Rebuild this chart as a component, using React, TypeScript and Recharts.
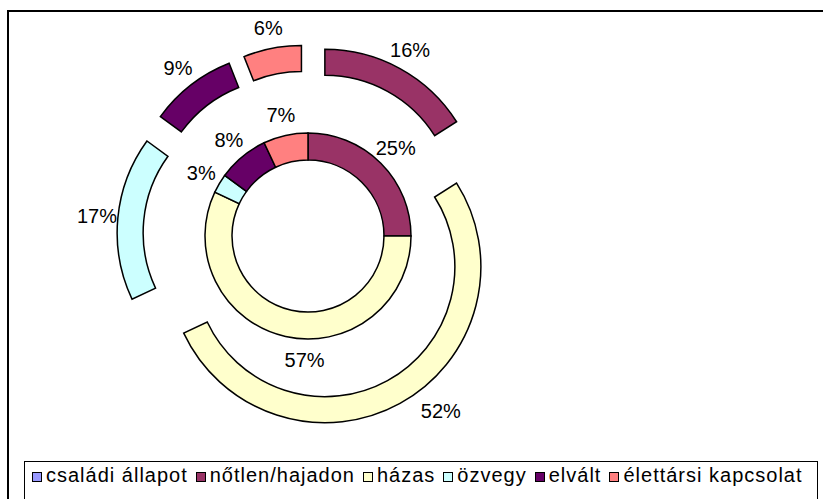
import React from 'react';
import { PieChart, Pie, Cell, Sector, Legend } from 'recharts';

// ---- data ----
const seriesName = 'családi állapot';
const categories = ['nőtlen/hajadon', 'házas', 'özvegy', 'elvált', 'élettársi kapcsolat'];
const innerValues = [25, 57, 3, 8, 7];
const outerValues = [16, 52, 17, 9, 6];

// ---- styles ----
const seriesColor = '#9999FF';
const colors = ['#993366', '#FFFFCC', '#CCFFFF', '#660066', '#FF8080'];
const FONT = "'Liberation Sans', Arial, sans-serif";
const EXPLODE = 35;
const RAD = Math.PI / 180;
const innerLabelNudge = [0, 11, 0, 0, 0];
const outerLabelNudge = [0, 10, 0, 0, 0];
const outerLabelExtra = [0, 8, 0, 0, 0];

const innerData = categories.map((name, i) => ({ name, value: innerValues[i] }));
const outerData = categories.map((name, i) => ({ name, value: outerValues[i] }));

const renderInnerLabel = (p: any) => {
  const a = (p.midAngle + innerLabelNudge[p.index]) * RAD;
  const r = 124;
  const x = p.cx + r * Math.cos(a);
  const y = p.cy - r * Math.sin(a);
  return (
    <text x={x} y={y} textAnchor="middle" dominantBaseline="central" fontFamily={FONT} fontSize={20} fill="#000">
      {`${p.value}%`}
    </text>
  );
};

const renderOuterSlice = (p: any) => {
  const m = p.midAngle * RAD;
  const cx = p.cx + EXPLODE * Math.cos(m);
  const cy = p.cy - EXPLODE * Math.sin(m);
  const a = (p.midAngle + outerLabelNudge[p.index]) * RAD;
  const r = p.outerRadius + 21 + outerLabelExtra[p.index];
  const x = cx + r * Math.cos(a);
  const y = cy - r * Math.sin(a);
  return (
    <g>
      <Sector
        cx={cx}
        cy={cy}
        innerRadius={p.innerRadius}
        outerRadius={p.outerRadius}
        startAngle={p.startAngle}
        endAngle={p.endAngle}
        fill={colors[p.index]}
        stroke="#000"
        strokeWidth={1.5}
      />
      <text x={x} y={y} textAnchor="middle" dominantBaseline="central" fontFamily={FONT} fontSize={20} fill="#000">
        {`${p.value}%`}
      </text>
    </g>
  );
};

const legendItems = [seriesName, ...categories];
const legendColors = [seriesColor, ...colors];

const renderLegend = () => (
  <div
    style={{
      boxSizing: 'border-box',
      width: 794,
      height: 44,
      border: '1px solid #000',
      background: '#fff',
      paddingLeft: 7,
      paddingTop: 2,
      fontFamily: FONT,
      fontSize: 20,
      letterSpacing: 1.0,
      lineHeight: '23px',
      whiteSpace: 'nowrap',
      color: '#000',
      display: 'flex',
      alignItems: 'baseline',
    }}
  >
    {legendItems.map((name, i) => (
      <span key={name} style={{ marginRight: 8, display: 'inline-flex', alignItems: 'baseline' }}>
        <span
          style={{
            display: 'inline-block',
            boxSizing: 'border-box',
            width: 10,
            height: 10,
            border: '1.5px solid #000',
            background: legendColors[i],
            marginRight: 4,
          }}
        />
        <span>{name}</span>
      </span>
    ))}
  </div>
);

export default function App() {
  return (
    <div style={{ position: 'absolute', left: 0, top: 0, width: 823, height: 499, overflow: 'hidden', background: '#fff' }}>
      <div
        style={{
          position: 'absolute',
          left: 7,
          top: 10,
          width: 900,
          height: 600,
          border: '2px solid #000',
          boxSizing: 'border-box',
        }}
      />
      <div style={{ position: 'absolute', left: 0, top: 0 }}>
        <PieChart width={823} height={499} margin={{ top: 0, right: 0, bottom: 0, left: 0 }}>
          <Pie
            data={innerData}
            dataKey="value"
            nameKey="name"
            cx={308}
            cy={236}
            innerRadius={76}
            outerRadius={103}
            startAngle={90}
            endAngle={-270}
            stroke="#000"
            strokeWidth={1.5}
            label={renderInnerLabel}
            labelLine={false}
            isAnimationActive={false}
          >
            {innerData.map((d, i) => (
              <Cell key={d.name} fill={colors[i]} stroke="#000" strokeWidth={1.5} />
            ))}
          </Pie>
          <Pie
            data={outerData}
            dataKey="value"
            nameKey="name"
            cx={308}
            cy={236}
            innerRadius={130}
            outerRadius={156}
            startAngle={90}
            endAngle={-270}
            label={renderOuterSlice}
            labelLine={false}
            isAnimationActive={false}
          >
            {outerData.map((d) => (
              <Cell key={d.name} fill="none" stroke="none" />
            ))}
          </Pie>
          <Legend
            content={renderLegend}
            wrapperStyle={{ position: 'absolute', left: 24, top: 461, bottom: 'auto', width: 794, height: 44 }}
          />
        </PieChart>
      </div>
    </div>
  );
}
